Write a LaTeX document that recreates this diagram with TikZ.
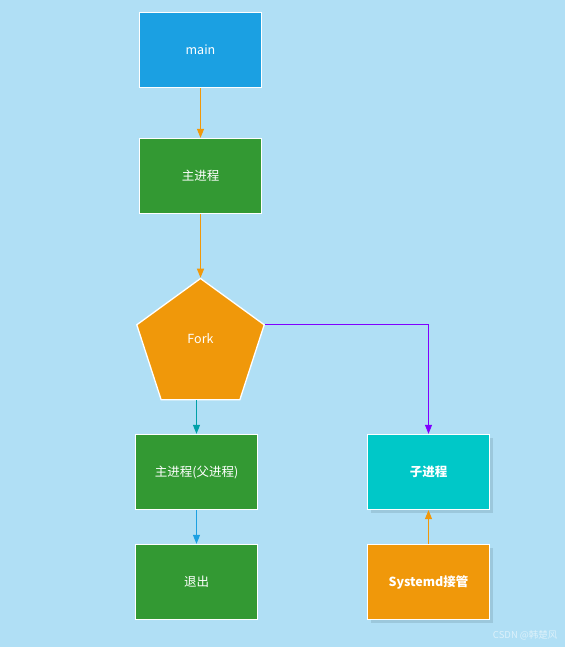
\documentclass[tikz,border=0pt]{standalone}
\usepackage{fontspec}
\setmainfont{Noto Sans CJK SC}
\usetikzlibrary{shapes.geometric,arrows.meta,shadows}
\definecolor{bg}{HTML}{B0DFF5}
\definecolor{cblue}{HTML}{1BA0E2}
\definecolor{cgreen}{HTML}{339933}
\definecolor{corange}{HTML}{F0980A}
\definecolor{cteal}{HTML}{00C8C8}
\definecolor{ateal}{HTML}{00A0A8}
\definecolor{apurple}{HTML}{8000FF}
\definecolor{shadowc}{HTML}{9CC8DC}
\begin{document}
\begin{tikzpicture}[x=1pt,y=-1pt,
  box/.style={draw=white,line width=1.3pt,minimum width=122pt,minimum height=75pt,inner sep=0pt,text=white,font=\fontsize{12.5}{14}\selectfont},
  sbox/.style={box,drop shadow={shadow xshift=3pt,shadow yshift=-3pt,fill=shadowc,opacity=1}},
  conn/.style={line width=1.1pt,-{Triangle[length=9pt,width=7pt]}}
]
\fill[bg] (0,0) rectangle (565,647);
\node[box,fill=cblue] (main) at (200.5,50) {main};
\node[box,fill=cgreen] (mp) at (200.5,176) {主进程};
\node[draw=white,line width=1.3pt,fill=corange,regular polygon,regular polygon sides=5,minimum size=134pt,inner sep=0pt,
  label={[text=white,font=\fontsize{12.5}{14}\selectfont,yshift=7pt]center:Fork}] (fork) at (200.5,345.5) {};
\node[box,fill=cgreen] (pp) at (196.5,472) {主进程(父进程)};
\node[box,fill=cgreen] (exit) at (196.5,582) {退出};
\node[sbox,fill=cteal,font=\fontsize{12.5}{14}\selectfont\bfseries] (child) at (428.5,472) {子进程};
\node[sbox,fill=corange,font=\fontsize{12.5}{14}\selectfont\bfseries] (sysd) at (428.5,582) {Systemd接管};
\draw[conn,corange] (main) -- (mp);
\draw[conn,corange] (mp.south) -- (fork.corner 1);
\draw[conn,ateal] (pp.north |- fork.south) -- (pp.north);
\draw[conn,cblue] (pp) -- (exit);
\draw[conn,apurple,line width=0.9pt] (fork.corner 5) -| (child.north);
\draw[conn,corange] (sysd) -- (child);
\node[anchor=east,text=white,opacity=0.55,font=\fontsize{9.5}{11}\selectfont] (wm) at (561,635) {CSDN @韩楚风};
\end{tikzpicture}
\end{document}
